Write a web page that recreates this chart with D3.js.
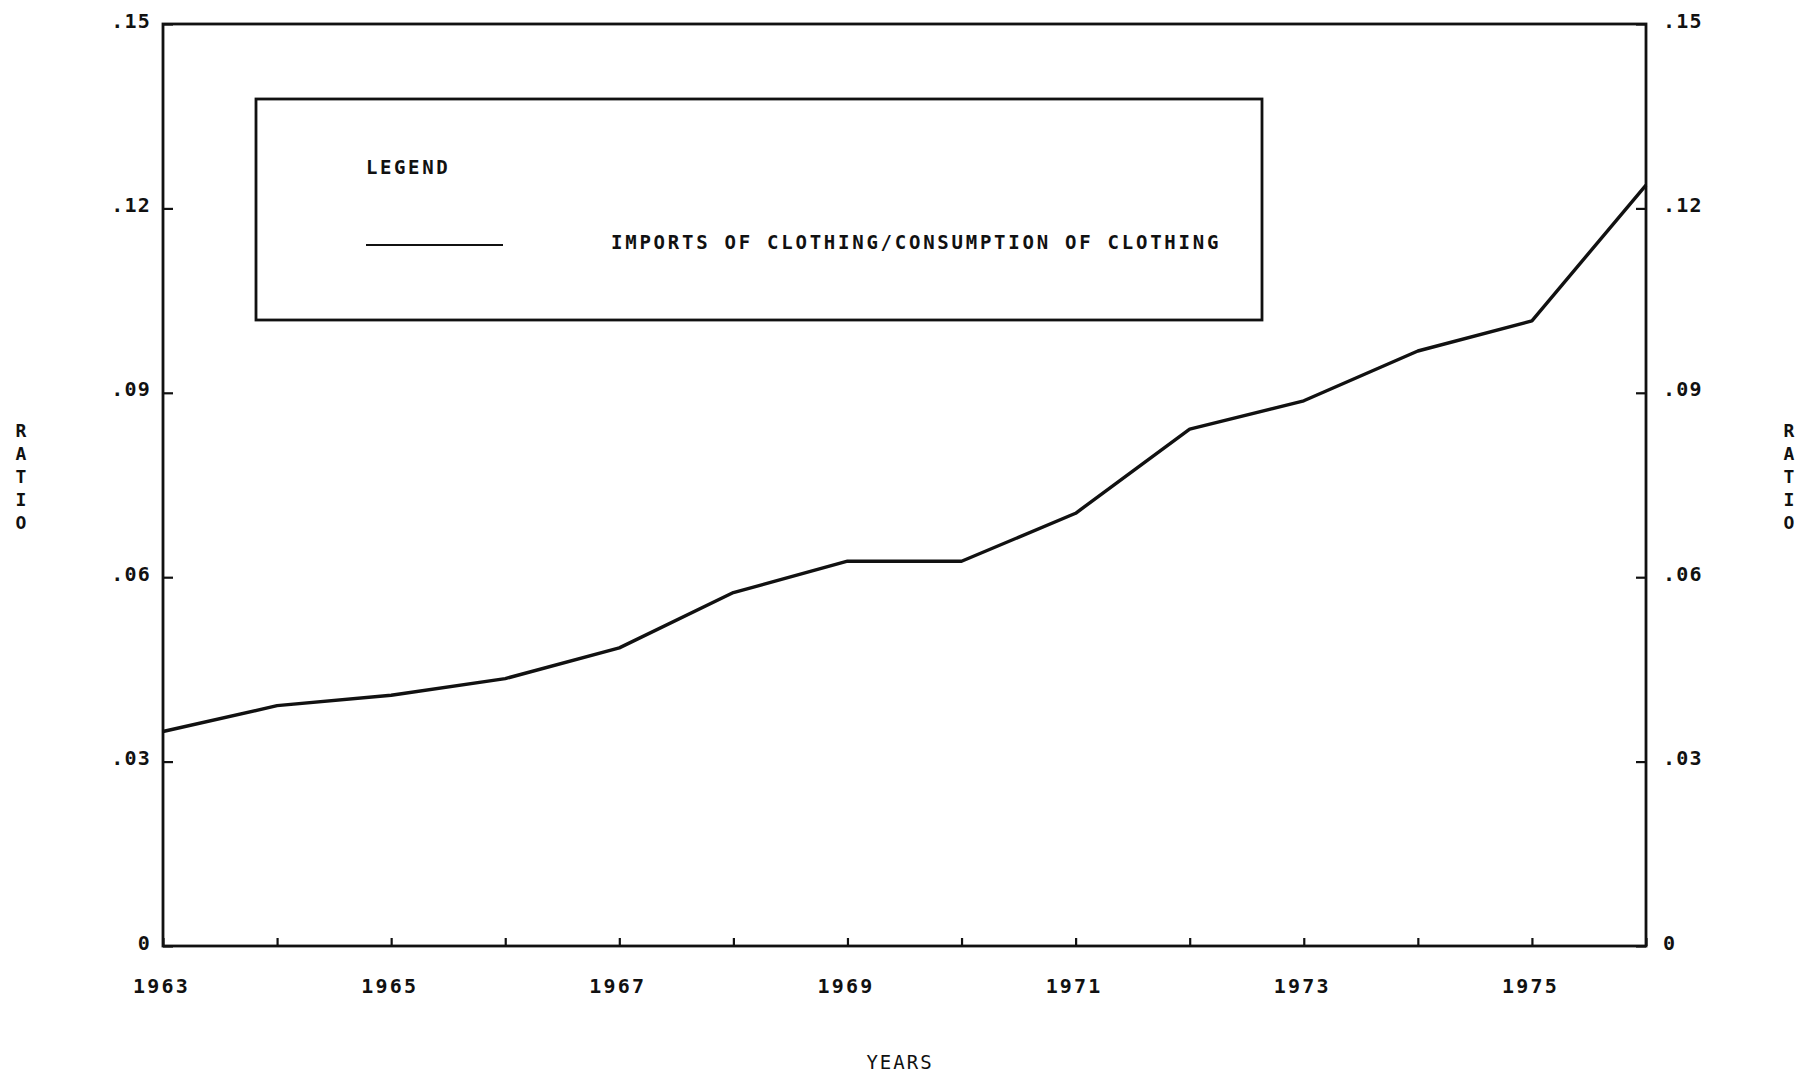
<!DOCTYPE html>
<html>
<head>
<meta charset="utf-8">
<script src="https://cdn.jsdelivr.net/npm/d3@7"></script>
<style>
  html, body { margin: 0; padding: 0; background: #fff; }
  svg { display: block; }
  text { font-family: "DejaVu Sans Mono", "Liberation Mono", monospace; fill: #111; }
</style>
</head>
<body>
<script>
// ---- data ----
const years = [1963, 1964, 1965, 1966, 1967, 1968, 1969, 1970, 1971, 1972, 1973, 1974, 1975, 1976];
const ratio = [0.0349, 0.0391, 0.0408, 0.0435, 0.0485, 0.0575, 0.0626, 0.0626, 0.0704, 0.0841, 0.0887, 0.0968, 0.1017, 0.1238];
const xTickLabels = ["1963", "", "1965", "", "1967", "", "1969", "", "1971", "", "1973", "", "1975", ""];
const yTickValues = [0, 0.03, 0.06, 0.09, 0.12, 0.15];
const yTickLabels = ["0", ".03", ".06", ".09", ".12", ".15"];
const seriesName = "IMPORTS OF CLOTHING/CONSUMPTION OF CLOTHING";
const legendTitle = "LEGEND";
const xTitle = "YEARS";
const yTitle = "RATIO";

// ---- layout ----
const W = 1815, H = 1076;
const mLeft = 163, mRight = 1646, mTop = 24, mBottom = 946;
const ink = "#111";

const svg = d3.select("body").append("svg").attr("width", W).attr("height", H);

const x = d3.scaleLinear().domain([1963, 1976]).range([mLeft, mRight]);
const y = d3.scaleLinear().domain([0, 0.15]).range([mBottom, mTop]);

function styleTicks(g) {
  g.select(".domain").remove();
  g.selectAll(".tick line").attr("stroke", ink).attr("stroke-width", 2.2);
  g.selectAll(".tick text")
    .attr("font-size", 20).attr("font-weight", "bold").attr("fill", ink)
    .attr("font-family", "DejaVu Sans Mono, Liberation Mono, monospace");
}

// bottom axis (ticks inward)
const gx = svg.append("g").attr("transform", `translate(0,${mBottom})`)
  .call(d3.axisBottom(x).tickValues(years).tickSize(-8).tickPadding(0)
    .tickFormat((d, i) => xTickLabels[i]));
styleTicks(gx);
gx.selectAll(".tick text").attr("x", -2).attr("y", 47).attr("dy", null).attr("letter-spacing", 2.2);

// left axis (ticks inward)
const gyl = svg.append("g").attr("transform", `translate(${mLeft},0)`)
  .call(d3.axisLeft(y).tickValues(yTickValues).tickSize(-10).tickPadding(0)
    .tickFormat((d, i) => yTickLabels[i]));
styleTicks(gyl);
gyl.selectAll(".tick text").attr("x", -12).attr("y", 3).attr("dy", null).attr("letter-spacing", 1.2);

// right axis (ticks inward)
const gyr = svg.append("g").attr("transform", `translate(${mRight},0)`)
  .call(d3.axisRight(y).tickValues(yTickValues).tickSize(-10).tickPadding(0)
    .tickFormat((d, i) => yTickLabels[i]));
styleTicks(gyr);
gyr.selectAll(".tick text").attr("x", 17).attr("y", 3).attr("dy", null).attr("letter-spacing", 1.2);

// frame
svg.append("rect")
  .attr("x", mLeft).attr("y", mTop)
  .attr("width", mRight - mLeft).attr("height", mBottom - mTop)
  .attr("fill", "none").attr("stroke", ink).attr("stroke-width", 2.8);

// data line
const line = d3.line().x((d, i) => x(years[i])).y(d => y(d));
svg.append("path").datum(ratio)
  .attr("d", line)
  .attr("fill", "none").attr("stroke", ink).attr("stroke-width", 3.4)
  .attr("stroke-linejoin", "round");

// legend box
const lg = svg.append("g");
lg.append("rect").attr("x", 256).attr("y", 99).attr("width", 1006).attr("height", 221)
  .attr("fill", "none").attr("stroke", ink).attr("stroke-width", 2.8);
lg.append("text").attr("x", 366).attr("y", 174)
  .attr("font-size", 19).attr("font-weight", "bold").attr("letter-spacing", 2.6).text(legendTitle);
lg.append("line").attr("x1", 366).attr("x2", 503).attr("y1", 245).attr("y2", 245)
  .attr("stroke", ink).attr("stroke-width", 2.2);
lg.append("text").attr("x", 611).attr("y", 249)
  .attr("font-size", 19).attr("font-weight", "bold").attr("letter-spacing", 2.75).text(seriesName);

// x title
svg.append("text").attr("x", 900).attr("y", 1069).attr("text-anchor", "middle")
  .attr("font-size", 19).attr("letter-spacing", 2).text(xTitle);

// vertical y titles (stacked letters)
function stacked(cx, y0) {
  svg.append("g").selectAll("text").data(yTitle.split("")).join("text")
    .attr("x", cx).attr("y", (d, i) => y0 + i * 23)
    .attr("text-anchor", "middle").attr("font-size", 18).attr("font-weight", "bold")
    .text(d => d);
}
stacked(21, 437);
stacked(1789, 437);
</script>
</body>
</html>
